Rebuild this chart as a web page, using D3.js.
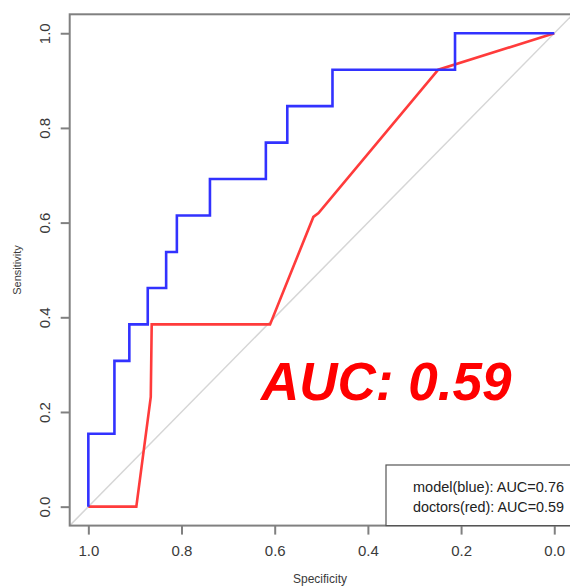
<!DOCTYPE html>
<html>
<head>
<meta charset="utf-8">
<script src="https://cdn.jsdelivr.net/npm/d3@7"></script>
<style>
  body { margin: 0; background: #fff; }
  text { font-family: "Liberation Sans", Arial, sans-serif; }
</style>
</head>
<body>
<div id="chart"></div>
<script>
// ROC curves (specificity, sensitivity)
var modelSpec = [1.0, 1.0, 0.944, 0.944, 0.912, 0.912, 0.8725, 0.8725, 0.833, 0.833, 0.81, 0.81, 0.739, 0.739, 0.619, 0.619, 0.573, 0.573, 0.476, 0.476, 0.213, 0.213, 0.0];
var modelSens = [0, 0.154, 0.154, 0.308, 0.308, 0.385, 0.385, 0.462, 0.462, 0.538, 0.538, 0.615, 0.615, 0.692, 0.692, 0.769, 0.769, 0.846, 0.846, 0.923, 0.923, 1.0, 1.0];

var doctorSpec = [1.0, 0.897, 0.866, 0.864, 0.61, 0.517, 0.506, 0.249, 0.0];
var doctorSens = [0, 0, 0.232, 0.385, 0.385, 0.612, 0.62, 0.923, 1.0];

var tickValues = [1.0, 0.8, 0.6, 0.4, 0.2, 0.0];
var legendLabels = ["model(blue): AUC=0.76", "doctors(red): AUC=0.59"];
var bigLabel = "AUC: 0.59";

var w = 570, h = 588;

var svg = d3.select("#chart").append("svg")
  .attr("width", w)
  .attr("height", h);

// R extends axes by 4% on each side
var x = d3.scaleLinear().domain([1.04, -0.04]).range([69.7, 572.9]);
var y = d3.scaleLinear().domain([-0.04, 1.04]).range([525.6, 14.3]);

// reference diagonal
svg.append("line")
  .attr("x1", x(1.04)).attr("y1", y(-0.04))
  .attr("x2", x(-0.04)).attr("y2", y(1.04))
  .attr("stroke", "#d6d6d6")
  .attr("stroke-width", 1.5);

// box
svg.append("rect")
  .attr("x", x(1.04)).attr("y", y(1.04))
  .attr("width", x(-0.04) - x(1.04))
  .attr("height", y(-0.04) - y(1.04))
  .attr("fill", "none")
  .attr("stroke", "#808080")
  .attr("stroke-width", 2);

// axes
var xAxis = d3.axisBottom(x).tickValues(tickValues).tickFormat(d3.format(".1f")).tickSize(9).tickSizeOuter(0);
var gx = svg.append("g").attr("transform", "translate(0," + y(-0.04) + ")").call(xAxis);
gx.select(".domain").remove();
gx.selectAll(".tick line").attr("stroke", "#808080").attr("stroke-width", 2);
gx.selectAll(".tick text")
  .attr("y", 20)
  .attr("dy", "0.71em")
  .attr("fill", "#3a3a3a")
  .style("font-size", "15px");

var yAxis = d3.axisLeft(y).tickValues(tickValues).tickFormat(d3.format(".1f")).tickSize(9).tickSizeOuter(0);
var gy = svg.append("g").attr("transform", "translate(" + x(1.04) + ",0)").call(yAxis);
gy.select(".domain").remove();
gy.selectAll(".tick line").attr("stroke", "#808080").attr("stroke-width", 2);
gy.selectAll(".tick text")
  .attr("x", 0).attr("dy", 0)
  .attr("text-anchor", "middle")
  .attr("transform", "translate(-20,0) rotate(-90)")
  .attr("fill", "#3a3a3a")
  .style("font-size", "15px");

// axis titles
svg.append("text")
  .attr("x", 320).attr("y", 583)
  .attr("text-anchor", "middle")
  .attr("fill", "#3a3a3a")
  .style("font-size", "12px")
  .text("Specificity");

svg.append("text")
  .attr("transform", "translate(21,270) rotate(-90)")
  .attr("text-anchor", "middle")
  .attr("fill", "#3a3a3a")
  .style("font-size", "11px")
  .text("Sensitivity");

var line = d3.line()
  .x(function(d){ return x(d[0]); })
  .y(function(d){ return y(d[1]); });

var doctorPts = doctorSpec.map(function(s, i){ return [s, doctorSens[i]]; });
var modelPts = modelSpec.map(function(s, i){ return [s, modelSens[i]]; });

svg.append("path")
  .datum(doctorPts)
  .attr("d", line)
  .attr("fill", "none")
  .attr("stroke", "#ff3b3b")
  .attr("stroke-width", 2.6);

svg.append("path")
  .datum(modelPts)
  .attr("d", line)
  .attr("fill", "none")
  .attr("stroke", "#3232ff")
  .attr("stroke-width", 2.6);

// legend
svg.append("rect")
  .attr("x", 386).attr("y", 465)
  .attr("width", 200).attr("height", y(-0.04) - 465)
  .attr("fill", "#fff")
  .attr("stroke", "#555")
  .attr("stroke-width", 1.2);

svg.selectAll(".leg")
  .data(legendLabels)
  .enter()
  .append("text")
  .attr("class", "leg")
  .attr("x", 564)
  .attr("y", function(d, i){ return 492 + i * 19.5; })
  .attr("text-anchor", "end")
  .attr("fill", "#222")
  .style("font-size", "14px")
  .attr("textLength", 151)
  .attr("lengthAdjust", "spacingAndGlyphs")
  .text(function(d){ return d; });

// big annotation
svg.append("text")
  .attr("x", 261).attr("y", 400)
  .attr("fill", "#ff0000")
  .style("font-size", "53px")
  .style("font-weight", "bold")
  .style("font-style", "italic")
  .text(bigLabel);
</script>
</body>
</html>
